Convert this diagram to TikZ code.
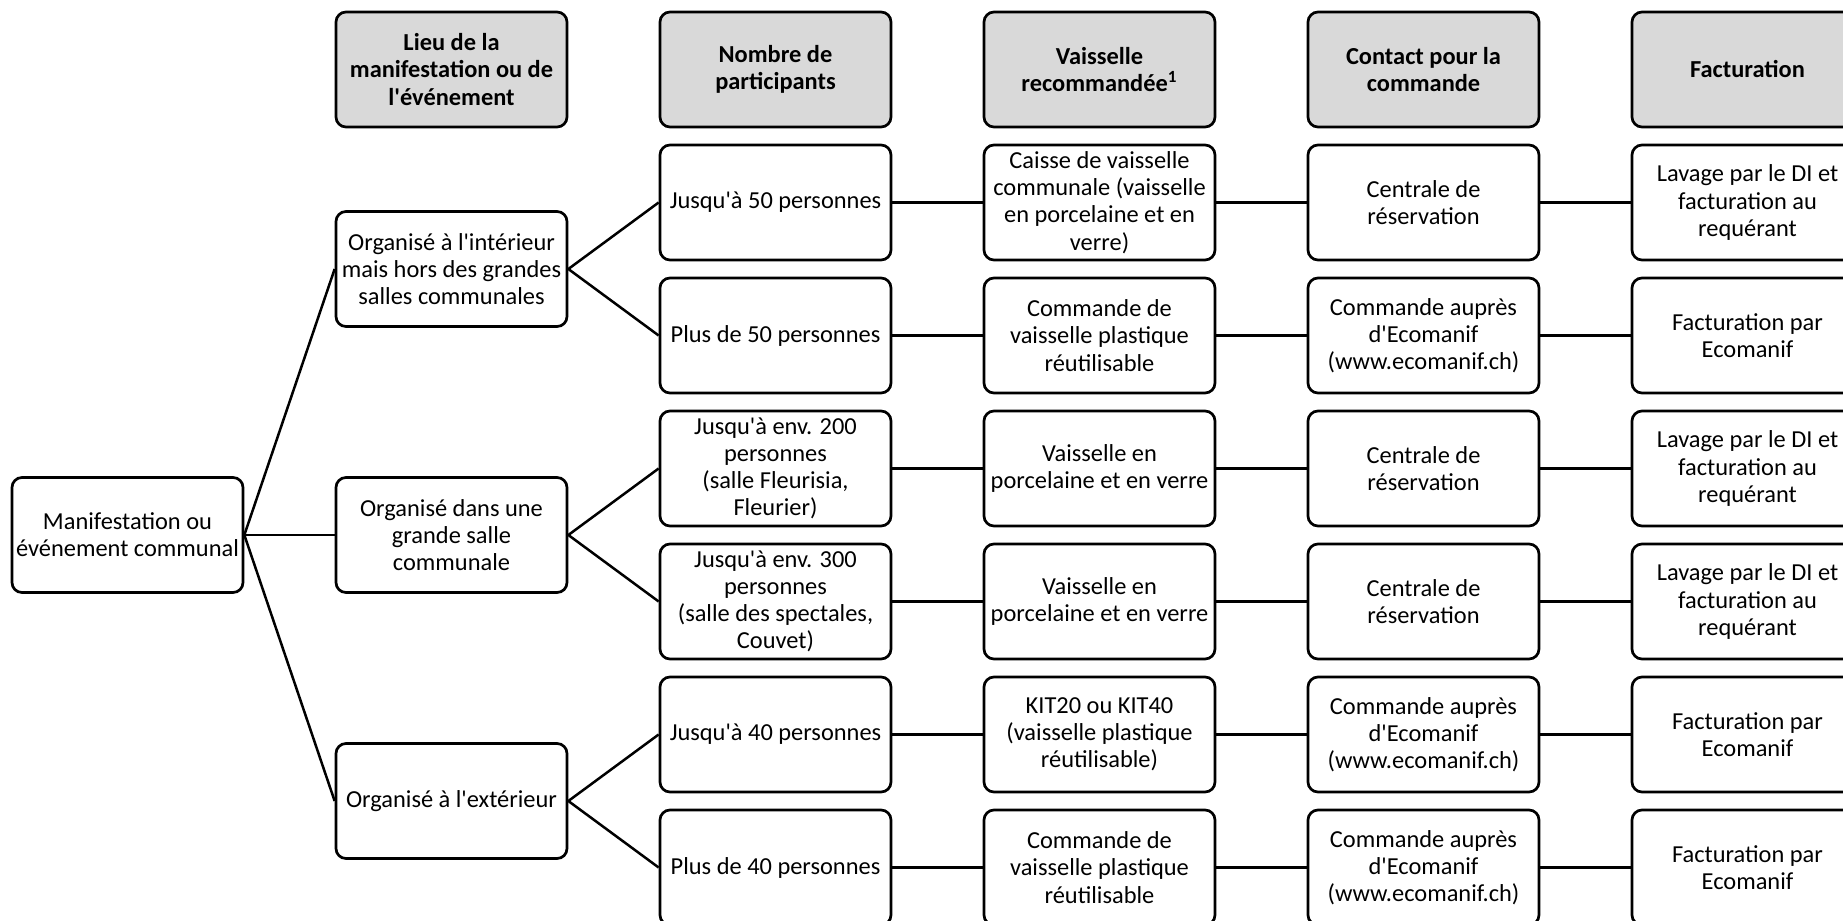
\documentclass[tikz,border=0pt]{standalone}
\usepackage{fontspec}
\setmainfont{Carlito}[Ligatures=TeXOff]
\begin{document}
\begin{tikzpicture}[x=0.5pt, y=-0.5pt]
        % Box style definitions
        \tikzset{
            cell/.style={draw=black, line width=1.35pt, rounded corners=5pt, minimum width=115.5pt, minimum height=57.5pt, align=center, inner sep=1pt, font=\fontsize{12.2pt}{13.6pt}\selectfont},
            head/.style={cell, fill=black!15, font=\fontsize{12.2pt}{13.6pt}\selectfont\bfseries},
            link/.style={black, line width=1.25pt}
        }
        \useasboundingbox (0,0) rectangle (1843,921);

        % ==========================================
        % HEADER ROW (y = 69.5)
        % ==========================================
        \node[head] (hLieu) at (451.5, 69.5) {Lieu de la\\manifestation ou de\\l'événement};
        \node[head] (hNombre) at (775.5, 69.5) {Nombre de\\participants};
        \node[head] (hVaiss) at (1099.5, 69.5) {Vaisselle\\recommandée\textsuperscript{1}};
        \node[head] (hContact) at (1423.5, 69.5) {Contact pour la\\commande};
        \node[head] (hFact) at (1747.5, 69.5) {Facturation};

        % ==========================================
        % ROOT AND PLACES
        % ==========================================
        \node[cell] (manif) at (127.5, 535) {Manifestation ou\\événement communal};
        \node[cell] (lieuA) at (451.5, 269) {Organisé à l'intérieur\\mais hors des grandes\\salles communales};
        \node[cell] (lieuB) at (451.5, 535) {Organisé dans une\\grande salle\\communale};
        \node[cell] (lieuC) at (451.5, 801) {Organisé à l'extérieur};

        % ==========================================
        % NUMBER OF PARTICIPANTS
        % ==========================================
        \node[cell] (nbA) at (775.5, 202.5) {Jusqu'à 50 personnes};
        \node[cell] (nbB) at (775.5, 335.5) {Plus de 50 personnes};
        \node[cell] (nbC) at (775.5, 468.5) {Jusqu'à env. 200\\personnes\\(salle Fleurisia,\\Fleurier)};
        \node[cell] (nbD) at (775.5, 601.5) {Jusqu'à env. 300\\personnes\\(salle des spectales,\\Couvet)};
        \node[cell] (nbE) at (775.5, 734.5) {Jusqu'à 40 personnes};
        \node[cell] (nbF) at (775.5, 867.5) {Plus de 40 personnes};

        % ==========================================
        % RECOMMENDED DISHES
        % ==========================================
        \node[cell] (vsA) at (1099.5, 202.5) {Caisse de vaisselle\\communale (vaisselle\\en porcelaine et en\\verre)};
        \node[cell] (vsB) at (1099.5, 335.5) {Commande de\\vaisselle plastique\\réutilisable};
        \node[cell] (vsC) at (1099.5, 468.5) {Vaisselle en\\porcelaine et en verre};
        \node[cell] (vsD) at (1099.5, 601.5) {Vaisselle en\\porcelaine et en verre};
        \node[cell] (vsE) at (1099.5, 734.5) {KIT20 ou KIT40\\(vaisselle plastique\\réutilisable)};
        \node[cell] (vsF) at (1099.5, 867.5) {Commande de\\vaisselle plastique\\réutilisable};

        % ==========================================
        % ORDER CONTACT
        % ==========================================
        \node[cell] (ctA) at (1423.5, 202.5) {Centrale de\\réservation};
        \node[cell] (ctB) at (1423.5, 335.5) {Commande auprès\\d'Ecomanif\\(www.ecomanif.ch)};
        \node[cell] (ctC) at (1423.5, 468.5) {Centrale de\\réservation};
        \node[cell] (ctD) at (1423.5, 601.5) {Centrale de\\réservation};
        \node[cell] (ctE) at (1423.5, 734.5) {Commande auprès\\d'Ecomanif\\(www.ecomanif.ch)};
        \node[cell] (ctF) at (1423.5, 867.5) {Commande auprès\\d'Ecomanif\\(www.ecomanif.ch)};

        % ==========================================
        % BILLING
        % ==========================================
        \node[cell] (fcA) at (1747.5, 202.5) {Lavage par le DI et\\facturation au\\requérant};
        \node[cell] (fcB) at (1747.5, 335.5) {Facturation par\\Ecomanif};
        \node[cell] (fcC) at (1747.5, 468.5) {Lavage par le DI et\\facturation au\\requérant};
        \node[cell] (fcD) at (1747.5, 601.5) {Lavage par le DI et\\facturation au\\requérant};
        \node[cell] (fcE) at (1747.5, 734.5) {Facturation par\\Ecomanif};
        \node[cell] (fcF) at (1747.5, 867.5) {Facturation par\\Ecomanif};

        % ==========================================
        % CONNECTORS
        % ==========================================
        \draw[link] (manif.east) -- (lieuA.west);
        \draw[link] (manif.east) -- (lieuB.west);
        \draw[link] (manif.east) -- (lieuC.west);

        \draw[link] (lieuA.east) -- (nbA.west);
        \draw[link] (lieuA.east) -- (nbB.west);
        \draw[link] (lieuB.east) -- (nbC.west);
        \draw[link] (lieuB.east) -- (nbD.west);
        \draw[link] (lieuC.east) -- (nbE.west);
        \draw[link] (lieuC.east) -- (nbF.west);

        \draw[link] (nbA) -- (vsA) -- (ctA) -- (fcA);
        \draw[link] (nbB) -- (vsB) -- (ctB) -- (fcB);
        \draw[link] (nbC) -- (vsC) -- (ctC) -- (fcC);
        \draw[link] (nbD) -- (vsD) -- (ctD) -- (fcD);
        \draw[link] (nbE) -- (vsE) -- (ctE) -- (fcE);
        \draw[link] (nbF) -- (vsF) -- (ctF) -- (fcF);
    \end{tikzpicture}
\end{document}
